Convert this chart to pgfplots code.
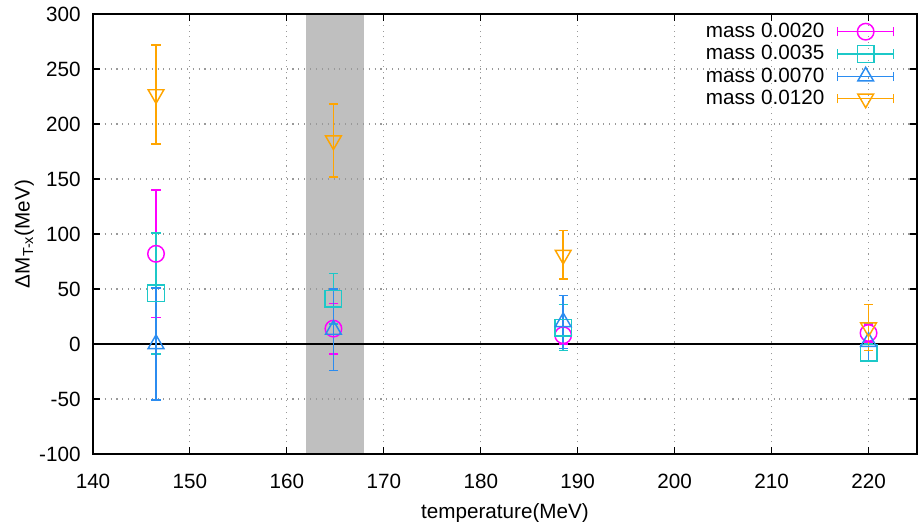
\documentclass[border=0pt]{standalone}
\usepackage{fontspec}
\setmainfont{Liberation Sans}
\usepackage{pgfplots}
\pgfplotsset{compat=1.18}

\definecolor{cmag}{HTML}{FF00FF}
\definecolor{ccyan}{HTML}{1CC8C8}
\definecolor{cblue}{HTML}{2B8CF0}
\definecolor{corange}{HTML}{FFA500}

\newcommand{\chartfont}{\fontsize{15.5}{18}\selectfont}

\begin{document}
\chartfont
\begin{tikzpicture}
\begin{axis}[
    set layers,
    scale only axis,
    width=618pt, height=330pt,
    xmin=140, xmax=225,
    ymin=-100, ymax=300,
    xtick={140,150,...,220},
    ytick={-100,-50,...,300},
    tick align=inside,
    major tick length=5pt,
    grid=major,
    major grid style={gray!80, line width=0.8pt, dash pattern=on 0.8pt off 3.6pt},
    axis line style={black, line width=1pt},
    every tick/.style={black, line width=0.8pt},
    extra y ticks={0},
    extra y tick labels={},
    extra y tick style={grid=major, major grid style={black, solid, line width=0.9pt}, major tick length=0pt},
    /pgf/number format/assume math mode=true,
    tick label style={font=\chartfont},
    yticklabel style={anchor=east, xshift=-4pt},
    xticklabel style={anchor=base, yshift=-26pt},
    xlabel={temperature(MeV)},
    ylabel={ΔM\textsubscript{T-x}(MeV)},
    xlabel style={at={(axis description cs:0.5,0)}, anchor=base, yshift=-48pt},
    ylabel style={at={(axis description cs:-0.0833,0.5)}, anchor=center},
    label style={font=\chartfont},
    legend style={at={(1,1)}, anchor=north east, xshift=-13.75pt, yshift=-2.5pt,
        draw=none, fill=none, row sep=-0.4pt,
        font=\chartfont},
    legend plot pos=right,
    legend cell align=right,
    legend image code/.code={
        \path (-7.5pt,0pt);
        \draw[#1, mark=none] (0pt,0pt) -- (42pt,0pt);
        \draw[#1, mark=none] (0pt,-3.5pt) -- (0pt,3.5pt);
        \draw[#1, mark=none] (42pt,-3.5pt) -- (42pt,3.5pt);
        \draw[#1] plot coordinates {(21pt,0pt)};
    },
    every axis plot/.append style={line width=1.1pt},
    error bars/error bar style={line width=1.1pt},
    error bars/error mark options={rotate=90, mark size=3.5pt, line width=1.1pt},
]

% shaded temperature band
\addplot[fill=black!25, draw=none, forget plot, on layer=axis background]
    coordinates {(162,-100) (162,300) (168,300) (168,-100)} -- cycle;

\addplot[cmag, only marks, mark=o, mark size=6.2pt, mark options={fill=white},
    error bars/.cd, y dir=both, y explicit]
    coordinates {
        (146.5, 82) +- (0,58)
        (164.8, 14) +- (0,23)
        (188.5, 8)  +- (0,8)
        (220.0, 10) +- (0,8)
    };
\addlegendentry{mass 0.0020}

\addplot[ccyan, only marks, mark=square, mark size=6.2pt, mark options={fill=white},
    error bars/.cd, y dir=both, y explicit]
    coordinates {
        (146.5, 46) +- (0,55)
        (164.8, 41) +- (0,23)
        (188.5, 15) +- (0,21)
        (220.0, -8) +- (0,8)
    };
\addlegendentry{mass 0.0035}

\addplot[cblue, only marks, mark=triangle, mark size=6.8pt, mark options={fill=white},
    error bars/.cd, y dir=both, y explicit]
    coordinates {
        (146.5, 0)  +- (0,51)
        (164.8, 13) +- (0,37)
        (188.5, 20) +- (0,24)
        (220.0, 2)  +- (0,17)
    };
\addlegendentry{mass 0.0070}

\addplot[corange, only marks, mark=triangle, mark size=6.8pt, mark options={fill=white, rotate=180},
    error bars/.cd, y dir=both, y explicit]
    coordinates {
        (146.5, 227) +- (0,45)
        (164.8, 185) +- (0,33)
        (188.5, 81)  +- (0,22)
        (220.0, 15)  +- (0,21)
    };
\addlegendentry{mass 0.0120}

\end{axis}
% page frame with the reference's margins round the axis box
\pgfresetboundingbox
\path[use as bounding box] (current axis.south west) ++(-69.75pt,-50.25pt)
    rectangle ([shift={(0.75pt,10.5pt)}]current axis.north east);
\end{tikzpicture}
\end{document}
